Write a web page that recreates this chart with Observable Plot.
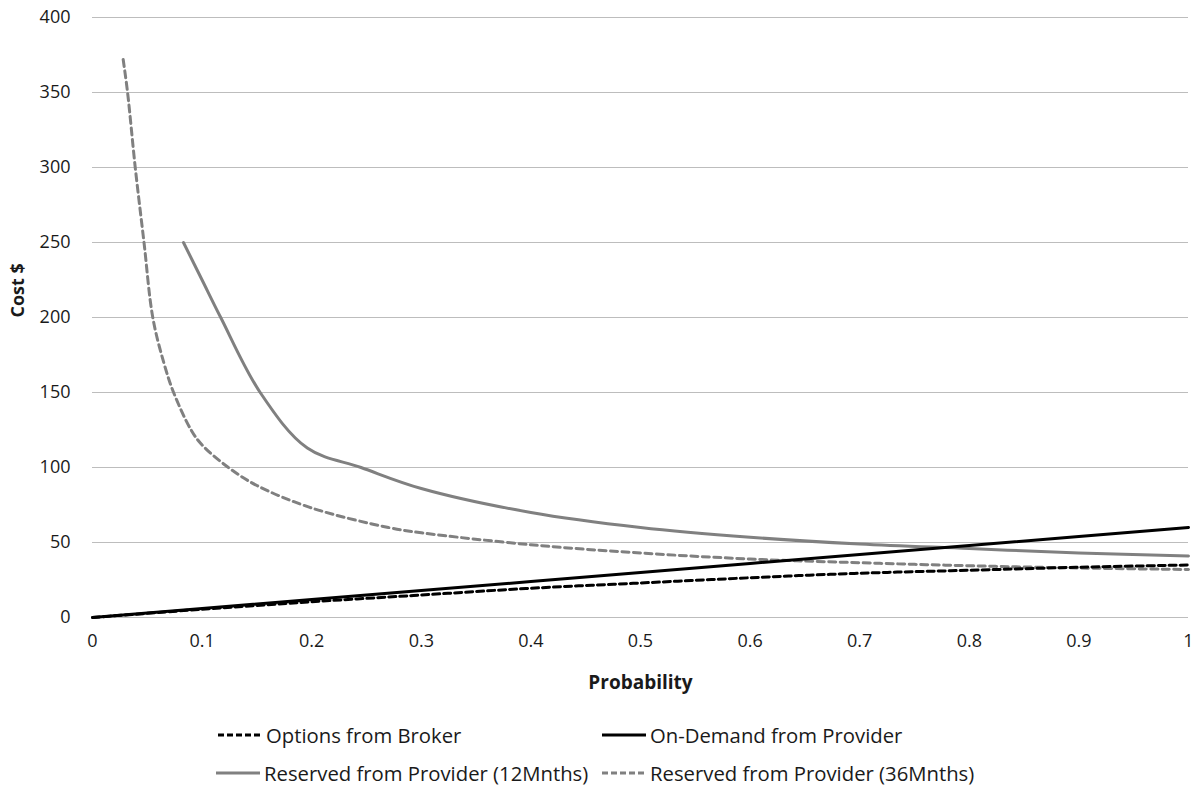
<!DOCTYPE html>
<html>
<head>
<meta charset="utf-8">
<script src="https://cdn.jsdelivr.net/npm/d3@7"></script>
<script src="https://cdn.jsdelivr.net/npm/@observablehq/plot@0.6"></script>
<style>
  html, body { margin: 0; padding: 0; background: #fff; }
  body { width: 1200px; height: 791px; position: relative; overflow: hidden; font-family: "Open Sans", "Noto Sans", sans-serif; }
  #legend { position: absolute; left: 0; top: 0; width: 1200px; height: 791px; pointer-events: none; }
  .item { position: absolute; display: flex; align-items: center; font-size: 20.3px; color: #1a1a1a; white-space: nowrap; }
  .item svg { margin-right: 3px; }
</style>
</head>
<body>
<div id="chart"></div>
<div id="legend"></div>
<script>
// ---- data ----
const xTicks = [0, 0.1, 0.2, 0.3, 0.4, 0.5, 0.6, 0.7, 0.8, 0.9, 1];
const yTicks = [0, 50, 100, 150, 200, 250, 300, 350, 400];

const brokerX = [0, 0.1, 0.2, 0.3, 0.4, 0.5, 0.6, 0.7, 0.8, 0.9, 1];
const brokerY = [0, 5.5, 10.5, 15, 19.5, 23, 26.5, 29.5, 31.5, 33.5, 35];

const onDemandX = [0, 0.1, 0.2, 0.3, 0.4, 0.5, 0.6, 0.7, 0.8, 0.9, 1];
const onDemandY = [0, 6, 12, 18, 24, 30, 36, 42, 48, 54, 60];

const res12X = [0.083, 0.1, 0.117, 0.153, 0.196, 0.245, 0.3, 0.4, 0.5, 0.6, 0.7, 0.8, 0.9, 1];
const res12Y = [250, 225, 200, 150, 113, 100, 86, 70, 60, 53.5, 49, 46, 43, 41];

const res36X = [0.028, 0.032, 0.039, 0.047, 0.055, 0.065, 0.074, 0.09, 0.1, 0.124, 0.15, 0.2, 0.27, 0.3, 0.4, 0.5, 0.6, 0.7, 0.8, 0.9, 1];
const res36Y = [372, 350, 300, 250, 200, 170, 150, 125, 115, 100, 88, 73, 60, 56.5, 48.5, 43, 39, 36.5, 34.5, 33, 32];

const seriesNames = ["Options from Broker", "On-Demand from Provider", "Reserved from Provider (12Mnths)", "Reserved from Provider (36Mnths)"];

const zip = (xs, ys) => xs.map((x, i) => ({x, y: ys[i]}));
const broker = zip(brokerX, brokerY);
const onDemand = zip(onDemandX, onDemandY);
const res12 = zip(res12X, res12Y);
const res36 = zip(res36X, res36Y);

const BLACK = "#000000";
const GRAY = "#808080";
const TEXT = "#1a1a1a";

const plot = Plot.plot({
  width: 1200,
  height: 705,
  marginLeft: 92,
  marginRight: 12,
  marginTop: 17,
  marginBottom: 88,
  style: { fontFamily: "'Open Sans', 'Noto Sans', sans-serif", fontSize: "18px", color: TEXT, background: "white" },
  x: { domain: [0, 1], label: null },
  y: { domain: [0, 400], label: null },
  marks: [
    Plot.gridY(yTicks, { stroke: "#bdbdbd", strokeOpacity: 1, strokeWidth: 1.2 }),
    Plot.axisX({ ticks: xTicks, tickSize: 0, tickPadding: 17, tickFormat: d => String(d), label: null, fontSize: 18 }),
    Plot.axisY({ ticks: yTicks, tickSize: 0, tickPadding: 22, tickFormat: d => String(d), label: null, fontSize: 18 }),
    Plot.line(res12, { x: "x", y: "y", stroke: GRAY, strokeWidth: 3, curve: "catmull-rom" }),
    Plot.line(res36, { x: "x", y: "y", stroke: GRAY, strokeWidth: 3, strokeDasharray: "7,4.5", curve: "catmull-rom" }),
    Plot.line(onDemand, { x: "x", y: "y", stroke: BLACK, strokeWidth: 3 }),
    Plot.line(broker, { x: "x", y: "y", stroke: BLACK, strokeWidth: 3, strokeDasharray: "7,4", curve: "catmull-rom" }),
    Plot.text(["Probability"], { frameAnchor: "bottom", dy: 71, fontWeight: "bold", fontSize: 19, fill: TEXT }),
    Plot.text(["Cost $"], { frameAnchor: "left", dx: -74, rotate: -90, fontWeight: "bold", fontSize: 18, fill: TEXT })
  ]
});
document.getElementById("chart").appendChild(plot);

// ---- legend (HTML below the SVG) ----
const legendItems = [
  { name: seriesNames[0], color: BLACK, dash: "6,3", left: 217, top: 721 },
  { name: seriesNames[1], color: BLACK, dash: null, left: 601, top: 721 },
  { name: seriesNames[2], color: GRAY, dash: null, left: 215, top: 759 },
  { name: seriesNames[3], color: GRAY, dash: "6,3", left: 601, top: 759 }
];
const legend = document.getElementById("legend");
for (const it of legendItems) {
  const div = document.createElement("div");
  div.className = "item";
  div.style.left = it.left + "px";
  div.style.top = it.top + "px";
  div.innerHTML = `<svg width="46" height="26"><line x1="1" x2="45" y1="13" y2="13" stroke="${it.color}" stroke-width="3" ${it.dash ? `stroke-dasharray="${it.dash}"` : ""}/></svg><span>${it.name}</span>`;
  legend.appendChild(div);
}
</script>
</body>
</html>
